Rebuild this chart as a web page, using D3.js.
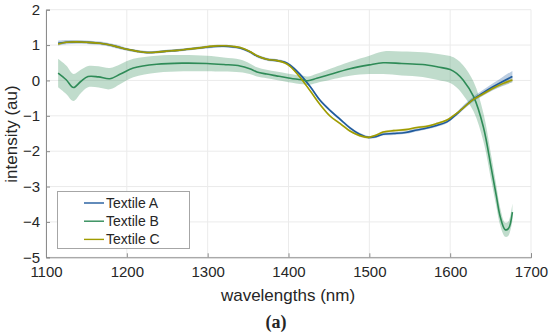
<!DOCTYPE html>
<meta charset="utf-8">
<html>
<head>
<script src="https://d3js.org/d3.v7.min.js"></script>
<style>
body { margin: 0; background: #fff; }
text { font-family: "Liberation Sans", Arial, sans-serif; fill: #262626; }
</style>
</head>
<body>
<div id="chart"></div>
<script>

// wavelengths (nm) for textiles A and C
var wAC = [1115,1125,1138,1150,1167,1185,1200,1212,1225,1237,1249,1262,1274,1290,1307,1320,1332,1340,1352,1361,
           1373,1386,1395,1402,1414,1427,1439,1452,1464,1476,1488,1499,1508,1517,1530,1545,1559,1570,1582,1596,
           1608,1614,1628,1640,1653,1665,1677];
var meanA = [1.05,1.08,1.09,1.08,1.05,0.97,0.88,0.83,0.79,0.80,0.83,0.85,0.88,0.92,0.96,0.97,0.95,0.92,0.81,0.69,
             0.60,0.56,0.52,0.43,0.18,-0.18,-0.56,-0.86,-1.10,-1.34,-1.52,-1.61,-1.59,-1.52,-1.50,-1.47,-1.40,-1.35,-1.28,-1.17,
             -0.95,-0.82,-0.54,-0.36,-0.18,-0.03,0.11];
var spreadA = [0.07,0.06,0.05,0.05,0.05,0.05,0.04,0.04,0.04,0.04,0.04,0.04,0.04,0.04,0.04,0.04,0.04,0.04,0.04,0.04,
               0.04,0.04,0.04,0.04,0.04,0.04,0.04,0.04,0.04,0.04,0.04,0.04,0.04,0.04,0.04,0.04,0.04,0.04,0.04,0.04,
               0.05,0.06,0.07,0.08,0.1,0.13,0.16];
var meanC = [1.03,1.08,1.09,1.08,1.05,0.97,0.88,0.83,0.79,0.80,0.83,0.85,0.88,0.92,0.97,0.98,0.96,0.93,0.82,0.70,
             0.60,0.56,0.50,0.40,0.10,-0.30,-0.68,-1.02,-1.22,-1.43,-1.56,-1.61,-1.55,-1.46,-1.42,-1.39,-1.33,-1.30,-1.23,-1.12,
             -0.93,-0.82,-0.55,-0.39,-0.22,-0.09,0.01];
var spreadC = [0.04,0.03,0.03,0.03,0.03,0.03,0.03,0.03,0.03,0.03,0.03,0.03,0.03,0.03,0.03,0.03,0.03,0.03,0.03,0.03,
               0.03,0.03,0.03,0.03,0.03,0.03,0.03,0.03,0.03,0.03,0.03,0.03,0.03,0.03,0.03,0.03,0.03,0.03,0.03,0.03,
               0.03,0.03,0.03,0.04,0.04,0.05,0.05];

// textile B
var wB = [1115,1125,1134,1143,1152,1165,1179,1192,1208,1237,1270,1299,1320,1340,1352,1361,1373,1385,1400,1418,
          1424,1435,1447,1476,1500,1517,1540,1566,1585,1600,1608,1616,1629,1641,1651,1657,1662,1668,1672,1677];
var meanB = [0.21,0.02,-0.2,-0.03,0.11,0.1,0.05,0.18,0.35,0.46,0.49,0.48,0.45,0.41,0.33,0.24,0.18,0.13,0.07,0.01,
             -0.01,0.06,0.14,0.33,0.44,0.5,0.48,0.45,0.38,0.31,0.2,0.01,-0.46,-1.31,-2.5,-3.25,-3.86,-4.22,-4.19,-3.72];
var spreadB = [0.4,0.4,0.38,0.33,0.3,0.3,0.3,0.28,0.26,0.24,0.23,0.22,0.2,0.18,0.15,0.13,0.12,0.12,0.12,0.12,
               0.12,0.13,0.15,0.2,0.26,0.32,0.34,0.35,0.37,0.38,0.4,0.42,0.42,0.4,0.35,0.3,0.25,0.2,0.2,0.24];

var names = ["Textile A", "Textile B", "Textile C"];
var colors = ["#1f5a9c", "#2e8b57", "#a09c00"];
var xTicks = [1100,1200,1300,1400,1500,1600,1700];
var yTicks = [-5,-4,-3,-2,-1,0,1,2];

var W = 550, H = 333;
var svg = d3.select("#chart").append("svg")
    .attr("width", W)
    .attr("height", H);

var x = d3.scaleLinear().domain([1100, 1700]).range([46, 531]);
var y = d3.scaleLinear().domain([-5, 2]).range([257.3, 9.7]);

// grid
svg.append("g").selectAll("line").data(xTicks).enter().append("line")
    .attr("x1", d => x(d)).attr("x2", d => x(d))
    .attr("y1", y(2)).attr("y2", y(-5))
    .attr("stroke", "#ebebeb").attr("stroke-width", 1);
svg.append("g").selectAll("line").data(yTicks).enter().append("line")
    .attr("x1", x(1100)).attr("x2", x(1700))
    .attr("y1", d => y(d)).attr("y2", d => y(d))
    .attr("stroke", "#ebebeb").attr("stroke-width", 1);

function rows(w, m, s) {
  return w.map(function(d, i) { return {w: d, m: m[i], s: s[i]}; });
}
var series = [rows(wAC, meanA, spreadA), rows(wB, meanB, spreadB), rows(wAC, meanC, spreadC)];

var area = d3.area()
    .x(d => x(d.w))
    .y0(d => y(d.m - d.s))
    .y1(d => y(d.m + d.s))
    .curve(d3.curveCatmullRom);
var line = d3.line()
    .x(d => x(d.w))
    .y(d => y(d.m))
    .curve(d3.curveCatmullRom);

// shaded spread, then the mean lines on top
series.forEach(function(s, i) {
  svg.append("path").datum(s)
    .attr("d", area)
    .attr("fill", colors[i])
    .attr("fill-opacity", 0.3)
    .attr("stroke", "none");
});
series.forEach(function(s, i) {
  svg.append("path").datum(s)
    .attr("d", line)
    .attr("fill", "none")
    .attr("stroke", colors[i])
    .attr("stroke-width", 1.6);
});

// axes
var xAxis = svg.append("g")
    .attr("transform", "translate(0," + y(-5) + ")")
    .call(d3.axisBottom(x).tickValues(xTicks).tickSize(-4).tickPadding(9).tickFormat(d3.format("d")));
var yAxis = svg.append("g")
    .attr("transform", "translate(" + x(1100) + ",0)")
    .call(d3.axisLeft(y).tickValues(yTicks).tickSize(-4).tickPadding(6).tickFormat(d => d < 0 ? "\u2212" + (-d) : d));
[xAxis, yAxis].forEach(function(a) {
  a.select(".domain").attr("stroke", "#8c8c8c");
  a.selectAll(".tick line").attr("stroke", "#8c8c8c");
  a.selectAll("text").style("font-size", "15px").attr("fill", "#262626")
    .style("font-family", "'Liberation Sans', Arial, sans-serif");
});

svg.append("text")
    .attr("x", 288).attr("y", 301)
    .attr("text-anchor", "middle")
    .style("font-size", "17px")
    .text("wavelengths (nm)");
svg.append("text")
    .attr("transform", "translate(17,134) rotate(-90)")
    .attr("text-anchor", "middle")
    .style("font-size", "17px")
    .text("intensity (au)");
svg.append("text")
    .attr("x", 276).attr("y", 328)
    .attr("text-anchor", "middle")
    .style("font-family", "'Liberation Serif', 'Times New Roman', serif")
    .style("font-weight", "bold")
    .style("font-size", "18px")
    .attr("fill", "#000")
    .text("(a)");

// legend
var leg = svg.append("g");
leg.append("rect")
    .attr("x", 57.5).attr("y", 191.5).attr("width", 132).attr("height", 57)
    .attr("fill", "#fff").attr("stroke", "#a6a6a6");
names.forEach(function(n, i) {
  var ly = 203 + i * 18.2;
  leg.append("line")
    .attr("x1", 84).attr("x2", 104).attr("y1", ly).attr("y2", ly)
    .attr("stroke", colors[i]).attr("stroke-width", 1.4);
  leg.append("text")
    .attr("x", 106).attr("y", ly).attr("dy", "0.35em")
    .style("font-size", "14px")
    .text(n);
});

</script>
</body>
</html>
